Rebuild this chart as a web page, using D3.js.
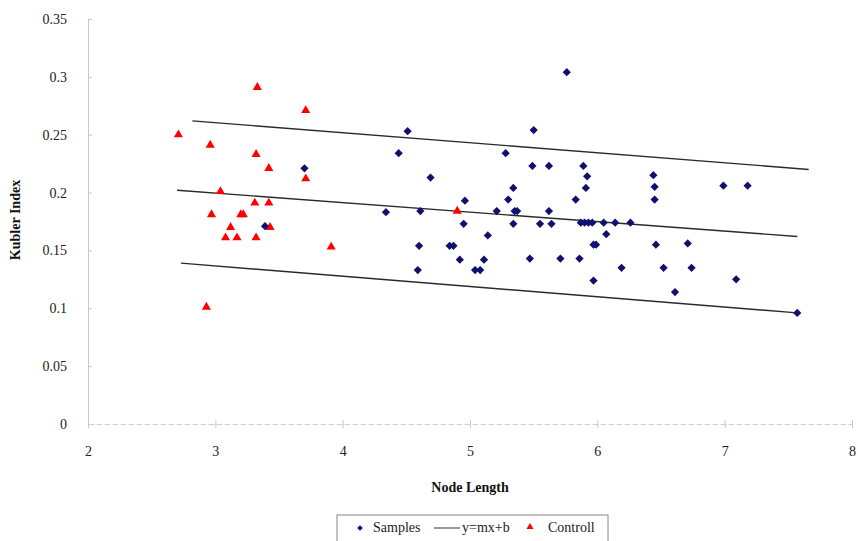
<!DOCTYPE html>
<html>
<head>
<meta charset="utf-8">
<script src="https://cdn.jsdelivr.net/npm/d3@7"></script>
<style>
  body { margin: 0; background: #fff; }
  svg text { font-family: "Liberation Serif", "DejaVu Serif", serif !important; }
</style>
</head>
<body>
<svg id="chart" width="858" height="541"></svg>
<script>
// samples (blue diamonds): node length, kubler index
var sampleX = [3.70, 3.39, 4.34, 4.44, 4.51, 4.59, 4.60, 4.61, 4.69, 4.84, 4.87, 4.92, 4.95, 4.96,
  5.04, 5.08, 5.11, 5.14, 5.21, 5.28, 5.30, 5.34, 5.34, 5.35, 5.37, 5.47, 5.49, 5.50, 5.55, 5.62,
  5.62, 5.64, 5.71, 5.76, 5.83, 5.86, 5.87, 5.89, 5.90, 5.91, 5.92, 5.93, 5.96, 5.97, 5.97, 5.99,
  6.05, 6.07, 6.14, 6.19, 6.26, 6.44, 6.45, 6.45, 6.46, 6.52, 6.61, 6.71, 6.74, 6.99, 7.09, 7.18, 7.57];
var sampleY = [0.221, 0.171, 0.183, 0.234, 0.253, 0.133, 0.154, 0.184, 0.213, 0.154, 0.154, 0.142, 0.173, 0.193,
  0.133, 0.133, 0.142, 0.163, 0.184, 0.234, 0.194, 0.204, 0.173, 0.184, 0.184, 0.143, 0.223, 0.254, 0.173, 0.223,
  0.184, 0.173, 0.143, 0.304, 0.194, 0.143, 0.174, 0.223, 0.174, 0.204, 0.214, 0.174, 0.174, 0.155, 0.124, 0.155,
  0.174, 0.164, 0.174, 0.135, 0.174, 0.215, 0.205, 0.194, 0.155, 0.135, 0.114, 0.156, 0.135, 0.206, 0.125, 0.206, 0.096];

// control (red triangles)
var controlX = [2.71, 2.93, 2.96, 2.97, 3.04, 3.08, 3.12, 3.17, 3.20, 3.22, 3.31, 3.32, 3.32, 3.33,
  3.42, 3.42, 3.43, 3.71, 3.71, 3.91, 4.90];
var controlY = [0.250, 0.101, 0.241, 0.181, 0.201, 0.161, 0.170, 0.161, 0.181, 0.181, 0.191, 0.233, 0.161, 0.291,
  0.221, 0.191, 0.170, 0.271, 0.212, 0.153, 0.184];

// y=mx+b lines: [x start, x end] and [y start, y end]
var fitX = [[2.82, 7.66], [2.70, 7.57], [2.73, 7.57]];
var fitY = [[0.262, 0.220], [0.202, 0.162], [0.139, 0.096]];

var xTicks = [2, 3, 4, 5, 6, 7, 8];
var yTicks = [0, 0.05, 0.1, 0.15, 0.2, 0.25, 0.3, 0.35];

var serif = "'Liberation Serif', 'DejaVu Serif', serif";
var svg = d3.select("#chart");
var x = d3.scaleLinear().domain([2, 8]).range([88, 852]);
var y = d3.scaleLinear().domain([0, 0.35]).range([424, 19]);

// axes
var yAxis = svg.append("g")
  .attr("transform", "translate(" + x(2) + ",0)")
  .attr("font-family", serif)
  .call(d3.axisLeft(y).tickValues(yTicks).tickFormat(d => String(d)).tickSize(4).tickSizeOuter(0));
yAxis.select(".domain").attr("stroke", "#c8c8c8");
yAxis.selectAll(".tick line").attr("stroke", "#c8c8c8").attr("x2", 4);
yAxis.selectAll(".tick text").attr("x", -21)
  .style("font-family", serif).style("font-size", "14px").attr("fill", "#222");

var xAxis = svg.append("g")
  .attr("transform", "translate(0," + y(0) + ")")
  .call(d3.axisBottom(x).tickValues(xTicks).tickFormat(d3.format("d")).tickSize(4).tickSizeOuter(0));
xAxis.attr("font-family", serif);
xAxis.select(".domain").attr("stroke", "#cfcfcf").attr("stroke-dasharray", "6,2");
xAxis.selectAll(".tick line").attr("stroke", "#c8c8c8").attr("y1", -4).attr("y2", 4);
xAxis.selectAll(".tick text").attr("y", 22)
  .style("font-family", serif).style("font-size", "14px").attr("fill", "#222");

// labels
svg.append("text")
  .attr("x", 470).attr("y", 492)
  .attr("text-anchor", "middle")
  .style("font-size", "14px").attr("font-weight", "bold").attr("fill", "#111")
  .text("Node Length");
svg.append("text")
  .attr("transform", "translate(20,220) rotate(-90)")
  .attr("text-anchor", "middle")
  .style("font-size", "14px").attr("font-weight", "bold").attr("fill", "#111")
  .text("Kubler Index");

// fit lines
var line = d3.line().x(d => x(d[0])).y(d => y(d[1]));
fitX.forEach(function (xs, i) {
  svg.append("path")
    .attr("d", line([[xs[0], fitY[i][0]], [xs[1], fitY[i][1]]]))
    .attr("fill", "none").attr("stroke", "#2a2a2a").attr("stroke-width", 1.4);
});

var diamond = d3.symbol().type(d3.symbolSquare).size(34);
var triangle = d3.symbol().type(d3.symbolTriangle).size(36);

svg.append("g").selectAll("path")
  .data(controlX.map((d, i) => [d, controlY[i]]))
  .enter().append("path")
  .attr("transform", d => "translate(" + x(d[0]) + "," + y(d[1]) + ")")
  .attr("d", triangle)
  .attr("fill", "#ff0000");

svg.append("g").selectAll("path")
  .data(sampleX.map((d, i) => [d, sampleY[i]]))
  .enter().append("path")
  .attr("transform", d => "translate(" + x(d[0]) + "," + y(d[1]) + ") rotate(45)")
  .attr("d", diamond)
  .attr("fill", "#10106e");

// legend
var lg = svg.append("g").attr("transform", "translate(337,515)");
lg.append("rect").attr("width", 271).attr("height", 30)
  .attr("fill", "#fff").attr("stroke", "#888").attr("stroke-width", 1);
lg.append("path").attr("transform", "translate(23,13) rotate(45)")
  .attr("d", d3.symbol().type(d3.symbolSquare).size(16)).attr("fill", "#10106e");
lg.append("text").attr("x", 36).attr("y", 17).style("font-size", "14px").attr("fill", "#222").text("Samples");
lg.append("line").attr("x1", 97).attr("x2", 123).attr("y1", 13).attr("y2", 13)
  .attr("stroke", "#333").attr("stroke-width", 1);
lg.append("text").attr("x", 125).attr("y", 17).style("font-size", "14px").attr("fill", "#222").text("y=mx+b");
lg.append("path").attr("transform", "translate(193,12)")
  .attr("d", d3.symbol().type(d3.symbolTriangle).size(22)).attr("fill", "#ff0000");
lg.append("text").attr("x", 211).attr("y", 17).style("font-size", "14px").attr("fill", "#222").text("Controll");
</script>
</body>
</html>
